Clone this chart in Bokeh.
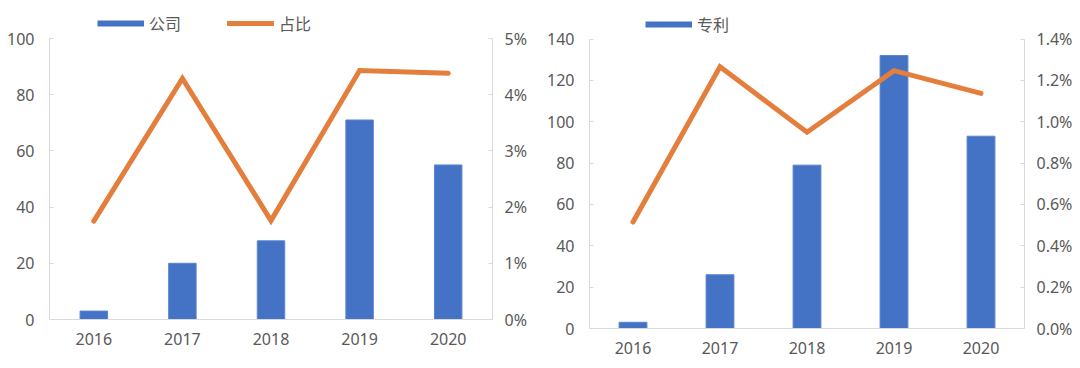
from bokeh.plotting import figure
from bokeh.layouts import row, column
from bokeh.models import (Range1d, LinearAxis, FixedTicker, NumeralTickFormatter,
                          Legend, LegendItem, ColumnDataSource)
from bokeh.embed import file_html
from bokeh.resources import INLINE

years = ["2016", "2017", "2018", "2019", "2020"]
company = [3, 20, 28, 71, 55]
company_share = [0.0175, 0.0429, 0.0176, 0.0443, 0.0438]
patents = [3, 26, 79, 132, 93]
patent_share = [0.00515, 0.01266, 0.00949, 0.01247, 0.01137]

BLUE = "#4472C4"
ORANGE = "#E47E3D"
AXIS = "#D9D9D9"
TXT = "#595959"
FONT = "Noto Sans CJK SC"
NFONT = "Noto Sans"
FS = "16px"


def style_axis(ax, standoff):
    ax.axis_line_color = AXIS
    ax.axis_line_width = 1
    ax.major_tick_line_color = AXIS
    ax.major_tick_in = 4
    ax.major_tick_out = 0
    ax.minor_tick_line_color = None
    ax.major_label_text_font = NFONT
    ax.major_label_text_font_size = FS
    ax.major_label_text_color = TXT
    ax.major_label_standoff = standoff


def make_chart(vals, shares, ymax, ystep, pmax, pstep, pfmt, bl, br, bt, bb,
               axis_top_px, bar_w, bar_label, line_label, legend_loc):
    H = 368
    frame_h = H - bt - bb
    # extend the frame above the top tick so the legend sits inside it
    scale = frame_h / (frame_h - (axis_top_px - bt))
    p = figure(x_range=years, y_range=Range1d(0, ymax * scale), width=540, height=H,
               output_backend="svg", toolbar_location=None,
               min_border_left=bl, min_border_right=br, min_border_top=bt,
               min_border_bottom=bb)
    p.extra_y_ranges = {"pct": Range1d(0, pmax * scale)}
    p.outline_line_color = None
    p.xgrid.visible = False
    p.ygrid.visible = False
    p.x_range.range_padding = 0

    src = ColumnDataSource(dict(x=years, v=vals, s=shares))
    p.vbar(x="x", top="v", width=bar_w, source=src, fill_color=BLUE,
           line_color="#5B84CF", line_width=1)
    line = p.line(x="x", y="s", source=src, y_range_name="pct", line_color=ORANGE,
                  line_width=5, line_cap="round", line_join="miter")
    # legend proxy for the bar series (drawn as a flat bar swatch)
    proxy = p.line(x=[years[0]], y=[float("nan")], line_color=BLUE, line_width=6,
                   line_cap="butt")

    ly = p.yaxis[0]
    ly.ticker = FixedTicker(ticks=list(range(0, ymax + 1, ystep)))
    ly.bounds = (0, ymax)
    style_axis(ly, 15)

    ry = LinearAxis(y_range_name="pct", bounds=(0, pmax))
    ry.ticker = FixedTicker(ticks=[round(i * pstep, 6) for i in range(int(round(pmax / pstep)) + 1)])
    ry.formatter = NumeralTickFormatter(format=pfmt)
    style_axis(ry, 12)
    p.add_layout(ry, "right")

    xa = p.xaxis[0]
    style_axis(xa, 13)
    xa.major_tick_line_color = None

    items = [LegendItem(label=bar_label, renderers=[proxy])]
    if line_label:
        items.append(LegendItem(label=line_label, renderers=[line]))
    lg = Legend(items=items, location=legend_loc, orientation="horizontal",
                glyph_width=47, glyph_height=20, label_standoff=5, spacing=46,
                padding=0, margin=0, border_line_color=None,
                background_fill_alpha=0, label_text_font=FONT,
                label_text_font_size=FS, label_text_color=TXT)
    p.add_layout(lg, "center")
    return p


left = make_chart(company, company_share, 100, 20, 0.05, 0.01, "0%",
                  49, 48, 12, 49, 38, 0.31, "公司", "占比", (48, 284))
right = make_chart(patents, patent_share, 140, 20, 0.014, 0.002, "0.0%",
                   49, 56, 12, 40, 38.5, 0.32, "专利", None, (56, 292))

layout = row(column(left), column(right))
open("out.html", "w").write(file_html(layout, INLINE))
